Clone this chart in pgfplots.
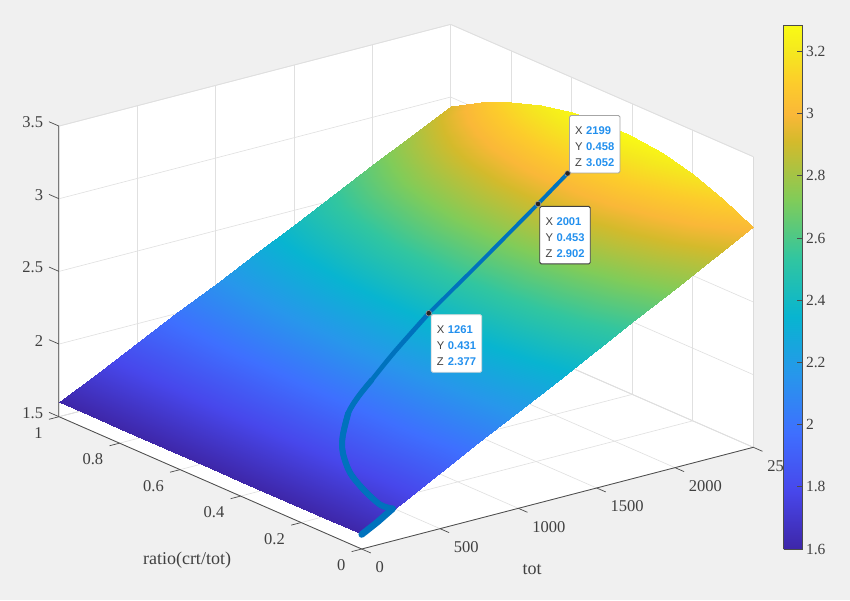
\documentclass[border=0pt]{standalone}
\usepackage{fontspec}
\setmainfont{Liberation Serif}
\newfontfamily\tipfont{Liberation Sans}
\usepackage{pgfplots}
\pgfplotsset{compat=1.18}

\definecolor{figbg}{HTML}{F0F0F0}
\definecolor{lineblue}{HTML}{0072BD}
\definecolor{tipblue}{HTML}{2290EE}
\definecolor{tipgray}{HTML}{404040}
\definecolor{ticktext}{HTML}{404040}

\pgfplotsset{colormap={parula}{
  rgb(0pt)=(0.2422,0.1504,0.6603) rgb(11.1pt)=(0.2803,0.2782,0.9221) rgb(22.2pt)=(0.2440,0.4358,0.9988)
  rgb(33.3pt)=(0.1540,0.5902,0.9218) rgb(44.4pt)=(0.0297,0.7082,0.8163) rgb(55.6pt)=(0.1938,0.7758,0.6251)
  rgb(66.7pt)=(0.5044,0.7993,0.3480) rgb(77.8pt)=(0.8300,0.7300,0.1700) rgb(83pt)=(0.9800,0.7200,0.2200)
  rgb(88.9pt)=(0.9892,0.8000,0.1700) rgb(95pt)=(0.9600,0.9100,0.1200) rgb(100pt)=(0.9769,0.9839,0.0805)}}

% data tip box: #1 x, #2 y, #3 z
\newcommand{\tiptext}[3]{%
  \rule{0pt}{12pt}\makebox[11pt][l]{\color{tipgray}X}{\bfseries\color{tipblue}#1}\\
  \makebox[11pt][l]{\color{tipgray}Y}{\bfseries\color{tipblue}#2}\\
  \makebox[11pt][l]{\color{tipgray}Z}{\bfseries\color{tipblue}#3}}
\tikzset{datatip/.style={draw=#1, fill=white, rounded corners=1.5pt, line width=0.9pt,
  align=left, inner xsep=5.5pt, inner ysep=2pt, minimum width=50.5pt, minimum height=57.5pt,
  font=\tipfont\fontsize{11.2}{16}\selectfont}}

\begin{document}
\begin{tikzpicture}
\fill[figbg] (0pt,0pt) rectangle (850pt,600pt);
\path[use as bounding box] (0pt,0pt) rectangle (850pt,600pt);
% white walls and floor of the box
\fill[white] (59pt,183.3pt) -- (361.7pt,51pt) -- (753.3pt,152.7pt) -- (753.3pt,443.4pt)
  -- (450.6pt,575.7pt) -- (59pt,474pt) -- cycle;

\begin{axis}[
    at={(361.7pt,51pt)}, anchor=origin,
    x={(0.15664pt,0.04068pt)}, y={(-302.7pt,132.3pt)}, z={(0pt,145.3pt)},
    xmin=0, xmax=2500, ymin=0, ymax=1, zmin=1.5, zmax=3.5,
    xtick={0,500,...,2500}, ytick={0,0.2,0.4,0.6,0.8,1}, ztick={1.5,2,2.5,3,3.5},
    xticklabels={0,500,1000,1500,2000,2500},
    yticklabels={0,0.2,0.4,0.6,0.8,1},
    zticklabels={1.5,2,2.5,3,3.5},
    xtick pos=left, ytick pos=left, ztick pos=left,
    grid=major,
    grid style={draw=black!12, line width=0.6pt},
    tick align=outside, major tick length=7pt,
    tick style={draw=none},
    axis line style={draw=black!14, line width=0.7pt},
    tick label style={font=\fontsize{16.5}{16.5}\selectfont, text=ticktext},
    xticklabel style={anchor=west, xshift=4pt, yshift=-15.7pt},
    yticklabel style={anchor=east, xshift=-6pt, yshift=-14.5pt},
    zticklabel style={xshift=-6pt},
    /pgf/number format/assume math mode=true,
    clip=false,
    colormap name=parula,
    point meta min=1.6, point meta max=3.285,
]
\addplot3[surf, shader=interp, mesh/rows=11, mesh/cols=11, mesh/ordering=y varies] coordinates {
(0,0,1.6) (0,0.1,1.6) (0,0.2,1.6) (0,0.3,1.6) (0,0.4,1.6) (0,0.5,1.6) (0,0.6,1.6) (0,0.7,1.6) (0,0.8,1.6) (0,0.9,1.6) (0,1,1.6)
(250,0,1.7415) (250,0.1,1.7418) (250,0.2,1.7419) (250,0.3,1.7418) (250,0.4,1.7414) (250,0.5,1.7407) (250,0.6,1.7398) (250,0.7,1.7387) (250,0.8,1.7373) (250,0.9,1.7356) (250,1,1.7338)
(500,0,1.8830) (500,0.1,1.8859) (500,0.2,1.8878) (500,0.3,1.8887) (500,0.4,1.8886) (500,0.5,1.8876) (500,0.6,1.8855) (500,0.7,1.8825) (500,0.8,1.8785) (500,0.9,1.8735) (500,1,1.8675)
(750,0,2.0245) (750,0.1,2.0321) (750,0.2,2.0376) (750,0.3,2.0408) (750,0.4,2.0418) (750,0.5,2.0405) (750,0.6,2.0371) (750,0.7,2.0315) (750,0.8,2.0236) (750,0.9,2.0135) (750,1,2.0013)
(1000,0,2.1660) (1000,0.1,2.1806) (1000,0.2,2.1913) (1000,0.3,2.1980) (1000,0.4,2.2008) (1000,0.5,2.1997) (1000,0.6,2.1946) (1000,0.7,2.1856) (1000,0.8,2.1727) (1000,0.9,2.1558) (1000,1,2.1350)
(1250,0,2.3075) (1250,0.1,2.3313) (1250,0.2,2.3490) (1250,0.3,2.3605) (1250,0.4,2.3658) (1250,0.5,2.3650) (1250,0.6,2.3581) (1250,0.7,2.3450) (1250,0.8,2.3257) (1250,0.9,2.3003) (1250,1,2.2688)
(1500,0,2.4490) (1500,0.1,2.4842) (1500,0.2,2.5106) (1500,0.3,2.5280) (1500,0.4,2.5367) (1500,0.5,2.5365) (1500,0.6,2.5274) (1500,0.7,2.5094) (1500,0.8,2.4827) (1500,0.9,2.4470) (1500,1,2.4025)
(1750,0,2.5905) (1750,0.1,2.6393) (1750,0.2,2.6761) (1750,0.3,2.7008) (1750,0.4,2.7135) (1750,0.5,2.7141) (1750,0.6,2.7026) (1750,0.7,2.6791) (1750,0.8,2.6435) (1750,0.9,2.5959) (1750,1,2.5363)
(2000,0,2.7320) (2000,0.1,2.7967) (2000,0.2,2.8456) (2000,0.3,2.8787) (2000,0.4,2.8961) (2000,0.5,2.8978) (2000,0.6,2.8837) (2000,0.7,2.8539) (2000,0.8,2.8084) (2000,0.9,2.7471) (2000,1,2.6700)
(2250,0,2.8735) (2250,0.1,2.9562) (2250,0.2,3.0190) (2250,0.3,3.0618) (2250,0.4,3.0847) (2250,0.5,3.0877) (2250,0.6,3.0708) (2250,0.7,3.0339) (2250,0.8,2.9771) (2250,0.9,2.9004) (2250,1,2.8038)
(2500,0,3.0150) (2500,0.1,3.1180) (2500,0.2,3.1963) (2500,0.3,3.2501) (2500,0.4,3.2792) (2500,0.5,3.2838) (2500,0.6,3.2637) (2500,0.7,3.2191) (2500,0.8,3.1498) (2500,0.9,3.0560) (2500,1,2.9375)
};
% front axis lines and their outward ticks
\draw[black!70, line width=0.8pt] (axis cs:0,0,1.5) -- (axis cs:2500,0,1.5);
\draw[black!70, line width=0.8pt] (axis cs:0,0,1.5) -- (axis cs:0,1,1.5);
\draw[black!52, line width=1pt] (axis cs:0,1,1.5) -- (axis cs:0,1,3.5);
\pgfplotsinvokeforeach{0,500,1000,1500,2000,2500}{
  \draw[black!70, line width=0.7pt] (axis cs:#1,0,1.5) -- (axis cs:#1,-0.03,1.5);}
\pgfplotsinvokeforeach{0,0.2,0.4,0.6,0.8,1}{
  \draw[black!70, line width=0.7pt] (axis cs:0,#1,1.5) -- (axis cs:-64,#1,1.5);}
\pgfplotsinvokeforeach{1.5,2,2.5,3,3.5}{
  \draw[black!70, line width=0.7pt] (axis cs:0,1,#1) -- (axis cs:0,1.033,#1);}
% the path, thinner further along
\addplot3[lineblue, line width=6.6pt, line cap=round, line join=round] coordinates {
(0,0,1.6) (100,0,1.657) (205,0.004,1.716)};
\addplot3[lineblue, line width=6pt, line cap=round, smooth] coordinates {
(205,0.004,1.716) (198,0.042,1.7121) (239,0.118,1.7356) (296,0.192,1.7685) (382,0.26,1.8186) (465,0.3036,1.8678) (596,0.3528,1.9468)};
\addplot3[lineblue, line width=5.4pt, line cap=round, smooth] coordinates {
(205,0.004,1.716) (198,0.042,1.7121) (239,0.118,1.7356) (296,0.192,1.7685) (382,0.26,1.8186) (465,0.3036,1.8678) (596,0.3528,1.9468) (701,0.3742,2.0112) (813,0.388,2.0813)};
\addplot3[lineblue, line width=4.6pt, line cap=round, smooth] coordinates {
(205,0.004,1.716) (198,0.042,1.7121) (239,0.118,1.7356) (296,0.192,1.7685) (382,0.26,1.8186) (465,0.3036,1.8678) (596,0.3528,1.9468) (701,0.3742,2.0112) (813,0.388,2.0813) (1000,0.41,2.2009) (1261,0.431,2.377)};
\addplot3[lineblue, line width=3.8pt, line cap=round, line join=round] coordinates {
(1261,0.431,2.377) (1600,0.443,2.608) (2001,0.453,2.902) (2199,0.458,3.052)};
% data tip dots
\addplot3[only marks, mark=*, mark size=2.8pt, mark options={fill=black!85, draw=black!35, line width=0.5pt}] coordinates {
(1261,0.431,2.377) (2001,0.453,2.902) (2199,0.458,3.052)};
\node[datatip=black!35, anchor=south west, xshift=1.5pt] at (axis cs:2199,0.458,3.052) {\tiptext{2199}{0.458}{3.052}};
\node[datatip=black!75, anchor=north west, xshift=1.3pt, yshift=-2pt] at (axis cs:2001,0.453,2.902) {\tiptext{2001}{0.453}{2.902}};
\node[datatip=black!15, anchor=north west, xshift=2pt, yshift=-1pt] at (axis cs:1261,0.431,2.377) {\tiptext{1261}{0.431}{2.377}};
\end{axis}

\node[font=\fontsize{18}{18}\selectfont, text=ticktext] at (532pt,30.5pt) {tot};
\node[font=\fontsize{18}{18}\selectfont, text=ticktext] at (187pt,39.5pt) {ratio(crt/tot)};

% colour bar
\begin{axis}[
    at={(783.5pt,51pt)}, anchor=south west,
    scale only axis, width=19pt, height=524pt,
    view={0}{90},
    xmin=0, xmax=1, ymin=1.6, ymax=3.285,
    xtick=\empty,
    ytick={1.6,1.8,2,...,3.2},
    yticklabels={1.6,1.8,2,2.2,2.4,2.6,2.8,3,3.2},
    ytick pos=right, tick align=inside, major tick length=6pt,
    tick style={draw=black!70, line width=0.7pt},
    axis line style={draw=black!70, line width=0.8pt},
    tick label style={font=\fontsize{15.5}{16}\selectfont, text=ticktext},
    /pgf/number format/assume math mode=true,
    colormap name=parula,
    point meta min=1.6, point meta max=3.285,
]
\addplot3[surf, shader=interp, point meta=y, mesh/rows=2, mesh/cols=2] coordinates {
(0,1.6,0) (1,1.6,0)
(0,3.285,0) (1,3.285,0)
};
\end{axis}
\end{tikzpicture}
\end{document}
